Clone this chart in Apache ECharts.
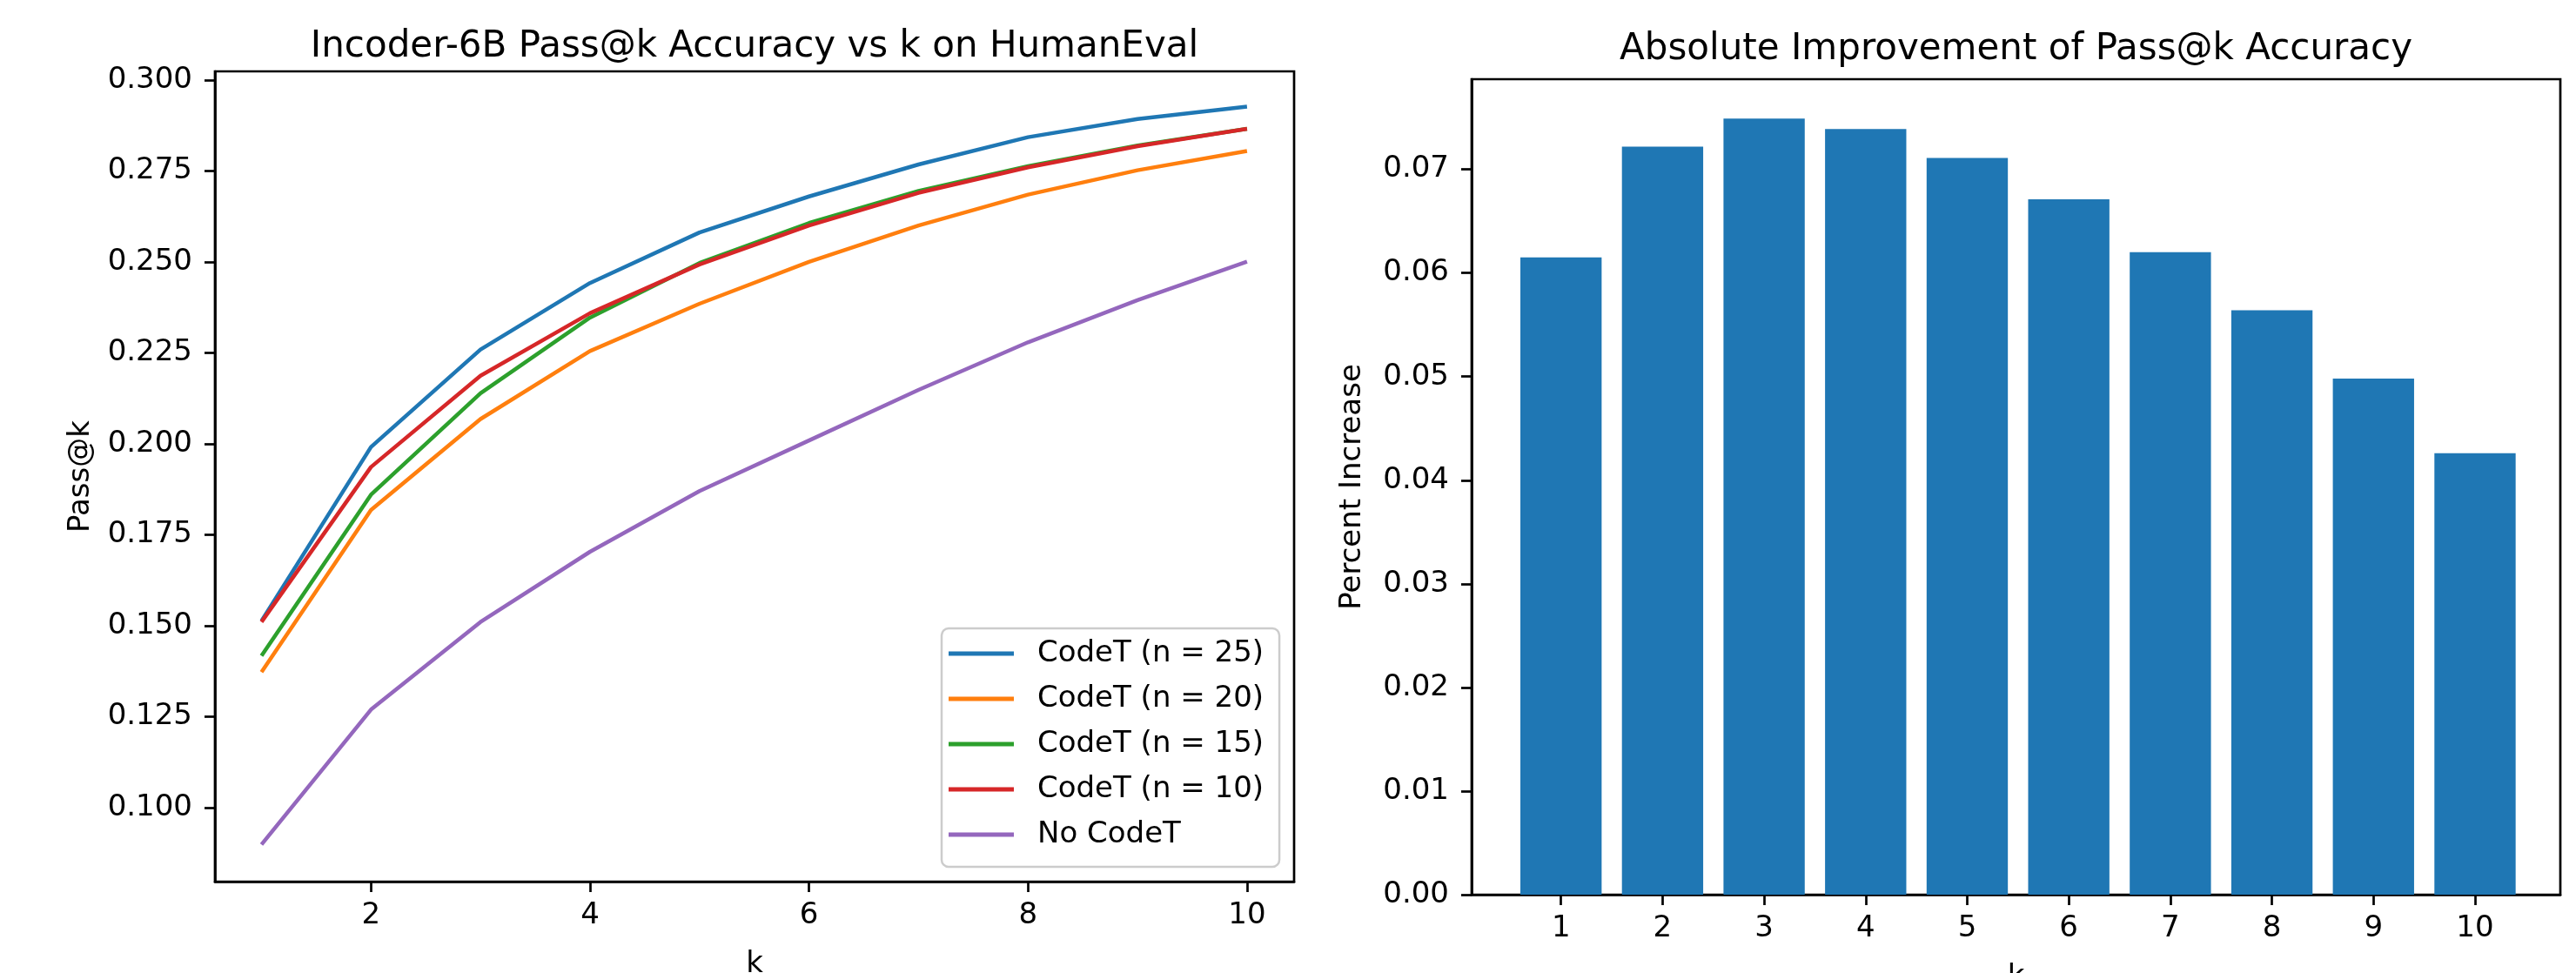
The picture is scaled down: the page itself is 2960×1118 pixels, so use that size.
<!DOCTYPE html>
<html>
<head>
<meta charset="utf-8">
<script src="https://cdn.jsdelivr.net/npm/echarts@6/dist/echarts.min.js"></script>
<style>
html,body{margin:0;padding:0;background:#ffffff;}
#chart{width:2960px;height:1118px;}
</style>
</head>
<body>
<div id="chart"></div>
<script>
// ---------- data ----------
const kValues = [1, 2, 3, 4, 5, 6, 7, 8, 9, 10];
const codeT25 = [0.1513, 0.1991, 0.2259, 0.2442, 0.2581, 0.2680, 0.2768, 0.2843, 0.2893, 0.2927];
const codeT20 = [0.1372, 0.1818, 0.2068, 0.2255, 0.2385, 0.2500, 0.2600, 0.2685, 0.2752, 0.2805];
const codeT15 = [0.1417, 0.1860, 0.2139, 0.2347, 0.2497, 0.2607, 0.2695, 0.2763, 0.2820, 0.2866];
const codeT10 = [0.1510, 0.1936, 0.2187, 0.2359, 0.2493, 0.2600, 0.2690, 0.2760, 0.2818, 0.2866];
const noCodeT = [0.0898, 0.1269, 0.1510, 0.1703, 0.1870, 0.2009, 0.2148, 0.2279, 0.2395, 0.2501];
const improvement = [0.0615, 0.0722, 0.0749, 0.0739, 0.0711, 0.0671, 0.0620, 0.0564, 0.0498, 0.0426];

const seriesNames = ['CodeT (n = 25)', 'CodeT (n = 20)', 'CodeT (n = 15)', 'CodeT (n = 10)', 'No CodeT'];
const leftXTicks = [2, 4, 6, 8, 10];
const leftYTicks = [0.100, 0.125, 0.150, 0.175, 0.200, 0.225, 0.250, 0.275, 0.300];
const rightXTicks = [1, 2, 3, 4, 5, 6, 7, 8, 9, 10];
const rightYTicks = [0.00, 0.01, 0.02, 0.03, 0.04, 0.05, 0.06, 0.07];

const leftTitle = 'Incoder-6B Pass@k Accuracy vs k on HumanEval';
const rightTitle = 'Absolute Improvement of Pass@k Accuracy';

// ---------- styling / layout ----------
const FONT = 'DejaVu Sans';
const colors = ['#1f77b4', '#ff7f0e', '#2ca02c', '#d62728', '#9467bd'];
const barColor = '#1f77b4';

const leftGrid = {left: 247, top: 82, width: 1240, height: 931};
const rightGrid = {left: 1691, top: 91, width: 1251, height: 937};
const leftX = {min: 0.575, max: 10.43};
const leftY = {min: 0.0796, max: 0.3024};
const rightX = {min: 0.12, max: 10.84};
const rightY = {min: 0, max: 0.0787};

const tickFont = 34;
const titleFont = 42;
const spineW = 2.7;

function axisCommon() {
  return {
    axisLine: {show: true, onZero: false, lineStyle: {color: '#000', width: spineW}},
    axisTick: {show: true, inside: false, length: 12, lineStyle: {color: '#000', width: spineW}},
    splitLine: {show: false},
    nameTextStyle: {fontFamily: FONT, fontSize: tickFont, color: '#000', lineHeight: 34},
  };
}

function xAxis(gridIndex, range, ticks, nameGap) {
  const c = axisCommon();
  return Object.assign(c, {
    type: 'value', gridIndex, min: range.min, max: range.max,
    name: 'k', nameLocation: 'middle', nameGap,
    axisTick: Object.assign(c.axisTick, {customValues: ticks}),
    axisLabel: {customValues: ticks, margin: 22, fontFamily: FONT, fontSize: tickFont, color: '#000',
      lineHeight: 34, formatter: v => String(v)}
  });
}

function yAxis(gridIndex, range, ticks, decimals, name, nameGap) {
  const c = axisCommon();
  return Object.assign(c, {
    type: 'value', gridIndex, min: range.min, max: range.max,
    name, nameLocation: 'middle', nameGap,
    axisTick: Object.assign(c.axisTick, {customValues: ticks}),
    axisLabel: {customValues: ticks, margin: 26, fontFamily: FONT, fontSize: tickFont, color: '#000',
      formatter: v => Number(v).toFixed(decimals)}
  });
}

const lineData = [codeT25, codeT20, codeT15, codeT10, noCodeT];
const lineSeries = lineData.map((vals, i) => ({
  type: 'line', name: seriesNames[i], xAxisIndex: 0, yAxisIndex: 0,
  data: kValues.map((k, j) => [k, vals[j]]),
  showSymbol: false, symbol: 'none', smooth: false,
  lineStyle: {color: colors[i], width: 4.5},
  itemStyle: {color: colors[i]},
  z: 3 + i
}));

const barWidthPx = 0.8 * rightGrid.width / (rightX.max - rightX.min);

const gridBase = {show: true, borderColor: '#000', borderWidth: spineW, backgroundColor: 'transparent',
  containLabel: false, outerBoundsMode: 'none'};

const option = {
  animation: false,
  backgroundColor: '#ffffff',
  textStyle: {fontFamily: FONT},
  title: [
    {text: leftTitle, left: leftGrid.left + leftGrid.width / 2, top: 33, textAlign: 'center',
      padding: 0, textStyle: {fontFamily: FONT, fontSize: titleFont, fontWeight: 'normal', color: '#000', lineHeight: 42}},
    {text: rightTitle, left: rightGrid.left + rightGrid.width / 2, top: 36, textAlign: 'center',
      padding: 0, textStyle: {fontFamily: FONT, fontSize: titleFont, fontWeight: 'normal', color: '#000', lineHeight: 42}}
  ],
  grid: [
    Object.assign({}, gridBase, leftGrid),
    Object.assign({}, gridBase, rightGrid)
  ],
  xAxis: [
    xAxis(0, leftX, leftXTicks, 78),
    xAxis(1, rightX, rightXTicks, 78)
  ],
  yAxis: [
    yAxis(0, leftY, leftYTicks, 3, 'Pass@k', 137),
    yAxis(1, rightY, rightYTicks, 2, 'Percent Increase', 120)
  ],
  legend: {
    show: true, orient: 'vertical', left: 1082, top: 722,
    data: seriesNames,
    icon: 'rect', itemWidth: 75, itemHeight: 5, itemGap: 12,
    padding: [9, 18, 17, 8],
    backgroundColor: 'rgba(255,255,255,0.8)',
    borderColor: '#cccccc', borderWidth: 2.5, borderRadius: 8,
    selectedMode: false,
    textStyle: {fontFamily: FONT, fontSize: 34, color: '#000', lineHeight: 40, padding: [0, 0, 0, 22]}
  },
  series: lineSeries.concat([{
    type: 'bar', name: 'Absolute Improvement', xAxisIndex: 1, yAxisIndex: 1,
    data: kValues.map((k, j) => [k, improvement[j]]),
    barWidth: barWidthPx,
    itemStyle: {color: barColor}
  }])
};

const chart = echarts.init(document.getElementById('chart'), null, {renderer: 'canvas', width: 2960, height: 1118});
chart.setOption(option);
</script>
</body>
</html>
